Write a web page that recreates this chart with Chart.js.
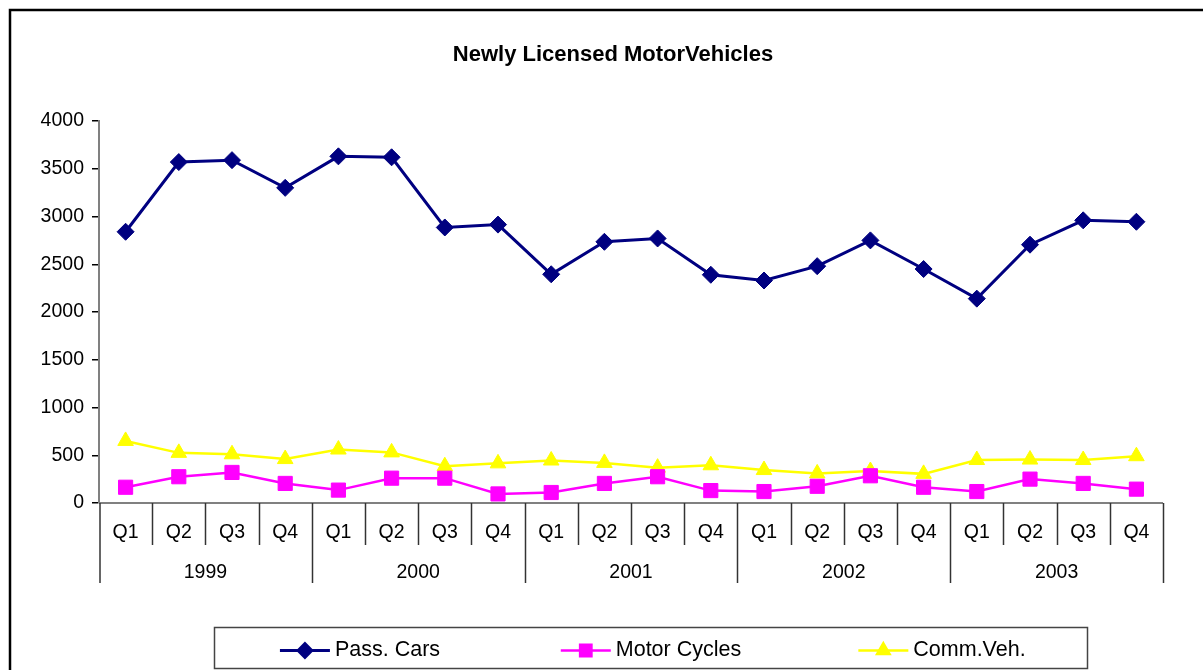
<!DOCTYPE html>
<html lang="en">
<head>
  <meta charset="UTF-8">
  <title>Newly Licensed MotorVehicles</title>
  <script src="https://cdn.jsdelivr.net/npm/chart.js"></script>
  <style>
    html, body {
      margin: 0;
      padding: 0;
      background: #fff;
      overflow: hidden;
    }
    .chart-container {
      position: relative;
      width: 1203px;
      height: 670px;
    }
  </style>
</head>
<body>
  <div class="chart-container">
    <canvas id="vehChart"></canvas>
  </div>

  <script>
    const years = ['1999', '2000', '2001', '2002', '2003'];
    const quarters = ['Q1', 'Q2', 'Q3', 'Q4'];

    const passCars    = [2840, 3570, 3590, 3300, 3630, 3620, 2885, 2915, 2395, 2735, 2770, 2390, 2330, 2480, 2750, 2450, 2140, 2705, 2960, 2945];
    const motorCycles = [165, 275, 320, 205, 135, 260, 260, 95, 110, 205, 275, 130, 120, 175, 285, 165, 120, 250, 205, 145];
    const commVeh     = [650, 525, 510, 460, 560, 530, 385, 415, 445, 420, 370, 395, 345, 310, 335, 305, 450, 455, 450, 490];

    const yTicks = [0, 500, 1000, 1500, 2000, 2500, 3000, 3500, 4000];

    const FONT = 'Arial, "Liberation Sans", sans-serif';

    // one label per quarter, e.g. "1999 Q1"
    const labels = [];
    years.forEach(y => quarters.forEach(q => labels.push(y + ' ' + q)));

    // frame, title, two-level x axis and boxed legend
    const excelLook = {
      id: 'excelLook',
      beforeDraw(chart) {
        const c = chart.ctx;
        c.save();
        c.fillStyle = '#fff';
        c.fillRect(0, 0, chart.width, chart.height);
        c.strokeStyle = '#000';
        c.lineWidth = 2.5;
        c.strokeRect(10, 10, 1230, 720);

        c.fillStyle = '#000';
        c.font = 'bold 22px ' + FONT;
        c.textAlign = 'center';
        c.textBaseline = 'middle';
        c.fillText('Newly Licensed MotorVehicles', 613, 55);
        c.restore();
      },
      beforeDatasetsDraw(chart) {
        const c = chart.ctx;
        const x = chart.scales.x;
        const area = chart.chartArea;
        const n = labels.length;
        const step = (x.right - x.left) / n;
        c.save();
        c.strokeStyle = '#808080';
        c.lineWidth = 2;
        c.beginPath();
        c.moveTo(area.left, area.bottom);
        c.lineTo(area.right, area.bottom);
        c.stroke();

        c.lineWidth = 1.5;
        c.strokeStyle = '#333';
        for (let i = 0; i <= n; i++) {
          const px = Math.round(x.getPixelForValue(i) - step / 2) + 0.5;
          const len = (i % 4 === 0) ? 80 : 42;
          c.beginPath();
          c.moveTo(i === 0 ? px + 0.5 : px, area.bottom);
          c.lineTo(i === 0 ? px + 0.5 : px, area.bottom + len);
          c.stroke();
        }

        c.fillStyle = '#000';
        c.font = '19.5px ' + FONT;
        c.textAlign = 'center';
        c.textBaseline = 'middle';
        for (let i = 0; i < n; i++) {
          c.fillText(quarters[i % 4], x.getPixelForValue(i), area.bottom + 30);
        }
        years.forEach((yr, k) => {
          const a = x.getPixelForValue(k * 4) - step / 2;
          const b = x.getPixelForValue(k * 4 + 3) + step / 2;
          c.fillText(yr, (a + b) / 2, area.bottom + 70);
        });
        c.restore();
      },
      afterDraw(chart) {
        const c = chart.ctx;
        const box = { left: 214.5, top: 627.5, width: 873, height: 41 };
        c.save();
        c.strokeStyle = '#444';
        c.lineWidth = 1.5;
        c.strokeRect(box.left, box.top, box.width, box.height);

        c.font = '21.5px ' + FONT;
        c.textBaseline = 'middle';
        c.textAlign = 'left';
        const slot = box.width / chart.data.datasets.length;
        const cy = box.top + 23;
        chart.data.datasets.forEach((ds, i) => {
          const tw = c.measureText(ds.label).width;
          const itemW = 50 + 5 + tw;
          const x0 = box.left + slot * i + (slot - itemW) / 2;
          c.strokeStyle = ds.borderColor;
          c.lineWidth = ds.borderWidth;
          c.beginPath();
          c.moveTo(x0, cy);
          c.lineTo(x0 + 50, cy);
          c.stroke();
          Chart.helpers.drawPoint(c, {
            pointStyle: ds.pointStyle,
            radius: ds.pointRadius * 0.8,
            borderWidth: 1
          }, x0 + 25, cy);
          c.fillStyle = ds.pointBackgroundColor;
          c.fill();
          c.fillStyle = '#000';
          c.fillText(ds.label, x0 + 55, cy);
        });
        c.restore();
      }
    };

    const ctx = document.getElementById('vehChart').getContext('2d');

    const vehChart = new Chart(ctx, {
      type: 'line',
      data: {
        labels: labels,
        datasets: [{
          label: 'Pass. Cars',
          data: passCars,
          borderColor: '#000080',
          backgroundColor: '#000080',
          pointBackgroundColor: '#000080',
          pointBorderColor: '#000080',
          borderWidth: 3,
          pointStyle: 'rectRot',
          pointRadius: 8.5,
          pointBorderWidth: 1,
          tension: 0
        }, {
          label: 'Motor Cycles',
          data: motorCycles,
          borderColor: '#FF00FF',
          backgroundColor: '#FF00FF',
          pointBackgroundColor: '#FF00FF',
          pointBorderColor: '#FF00FF',
          borderWidth: 2.5,
          pointStyle: 'rect',
          pointRadius: 10,
          pointBorderWidth: 1,
          tension: 0
        }, {
          label: 'Comm.Veh.',
          data: commVeh,
          borderColor: '#FFFF00',
          backgroundColor: '#FFFF00',
          pointBackgroundColor: '#FFFF00',
          pointBorderColor: '#FFFF00',
          borderWidth: 2.5,
          pointStyle: 'triangle',
          pointRadius: 9,
          pointBorderWidth: 1,
          tension: 0
        }]
      },
      options: {
        responsive: true,
        maintainAspectRatio: false,
        animation: false,
        layout: {
          padding: { top: 121, left: 0, right: 40, bottom: 167 }
        },
        plugins: {
          legend: { display: false },
          title: { display: false },
          tooltip: { enabled: false }
        },
        scales: {
          x: {
            display: false,
            offset: true
          },
          y: {
            min: 0,
            max: 4000,
            afterFit: (s) => { s.width = 99; },
            afterBuildTicks: (s) => { s.ticks = yTicks.map(v => ({ value: v })); },
            ticks: {
              color: '#000',
              font: { family: FONT, size: 19.5 },
              padding: 8,
              callback: (v) => String(v)
            },
            grid: {
              drawOnChartArea: false,
              drawTicks: true,
              tickLength: 7,
              color: '#000',
              lineWidth: 1.5
            },
            border: {
              color: '#808080',
              width: 2
            }
          }
        }
      },
      plugins: [excelLook]
    });
  </script>
</body>
</html>
